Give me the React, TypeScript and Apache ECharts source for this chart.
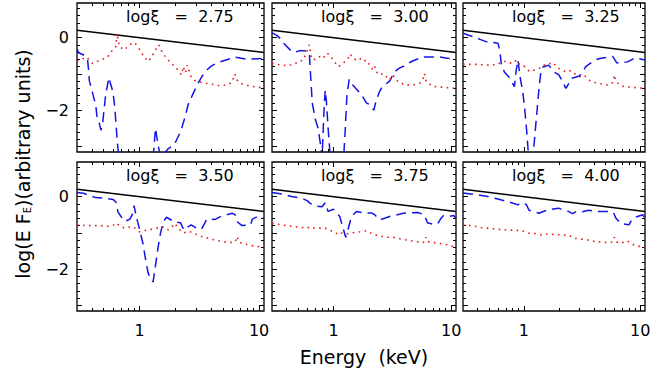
import React, { useEffect, useRef } from "react";
import * as echarts from "echarts";

// ---------------- data ----------------
const xiLabels = ["2.75", "3.00", "3.25", "3.50", "3.75", "4.00"];
const xMajorTicks = [1, 10];
const xMinorTicks = [0.4, 0.5, 0.6, 0.7, 0.8, 0.9, 2, 3, 4, 5, 6, 7, 8, 9];
const yMajorTicks = [-3, -2, -1, 0];
const yLabelTicks = [-2, 0];
const yMinorTicks = [-2.8, -2.6, -2.4, -2.2, -1.8, -1.6, -1.4, -1.2, -0.8, -0.6, -0.4, -0.2, 0.2, 0.4, 0.6, 0.8];

// incident continuum (same in all panels)
const continuum = [[0.3, 0.2], [11, -0.41]];

// log xi = 2.75
const blue275 = [[0.30,-0.32],[0.31,-0.42],[0.35,-0.5],[0.368,-0.62],[0.375,-0.9],[0.381,-1.2],[0.40,-1.45],[0.41,-1.6],[0.43,-1.85],[0.44,-2.15],[0.46,-2.35],[0.475,-2.55],[0.49,-2.4],[0.52,-1.6],[0.54,-1.3],[0.555,-1.1],[0.57,-1.25],[0.60,-1.5],[0.62,-1.9],[0.65,-2.8],[0.67,-3.3],[1.30,-3.3],[1.36,-2.5],[1.42,-2.9],[1.5,-3.3],[1.75,-3.05],[1.95,-2.95],[2.2,-2.6],[2.4,-2.2],[2.55,-1.85],[2.8,-1.55],[3.1,-1.25],[3.5,-0.95],[4.0,-0.78],[4.6,-0.68],[6.3,-0.54],[8.0,-0.6],[11,-0.57]];
const red275 = [[0.30,-0.66],[0.361,-0.54],[0.403,-0.71],[0.474,-0.62],[0.54,-0.54],[0.595,-0.34],[0.635,-0.25],[0.647,0.12],[0.678,-0.25],[0.747,-0.34],[0.823,-0.2],[0.908,-0.14],[0.968,-0.25],[1.067,-0.48],[1.18,-0.66],[1.27,-0.52],[1.36,-0.34],[1.45,-0.2],[1.54,-0.39],[1.68,-0.57],[1.85,-0.71],[2.04,-0.85],[2.25,-1.03],[2.32,-0.8],[2.43,-0.97],[2.51,-0.76],[2.68,-1.06],[2.92,-1.19],[3.32,-1.24],[3.91,-1.28],[4.59,-1.32],[5.4,-1.31],[5.95,-1.22],[6.27,-1.0],[6.55,-1.17],[7.23,-1.28],[8.51,-1.34],[10.0,-1.37],[11,-1.4]];

// log xi = 3.00
const blue300 = [[0.30,0.13],[0.33,0.06],[0.36,-0.05],[0.38,-0.17],[0.44,-0.38],[0.47,-0.40],[0.52,-0.36],[0.60,-0.37],[0.625,-0.5],[0.64,-1.1],[0.66,-1.8],[0.70,-2.25],[0.74,-2.5],[0.78,-3.0],[0.80,-3.3],[0.83,-2.0],[0.85,-1.45],[0.87,-1.75],[0.90,-2.5],[0.94,-3.3],[1.22,-3.3],[1.26,-2.5],[1.30,-1.6],[1.36,-1.15],[1.45,-1.3],[1.6,-1.45],[1.75,-1.6],[1.9,-1.8],[2.05,-1.85],[2.2,-2.0],[2.3,-1.75],[2.45,-1.5],[2.6,-1.35],[3.0,-1.2],[3.3,-0.95],[3.6,-0.85],[4.0,-0.78],[4.6,-0.66],[5.7,-0.54],[7.9,-0.53],[9.3,-0.57],[11,-0.6]];
const red300 = [[0.30,-0.71],[0.376,-0.77],[0.457,-0.75],[0.503,-0.66],[0.555,-0.62],[0.624,-0.2],[0.652,-0.6],[0.719,-0.6],[0.767,-0.52],[0.818,-0.57],[0.874,-0.43],[0.932,-0.48],[0.995,-0.62],[1.096,-0.8],[1.17,-0.75],[1.25,-0.66],[1.33,-0.57],[1.38,-0.45],[1.47,-0.57],[1.57,-0.62],[1.67,-0.57],[1.78,-0.66],[1.90,-0.62],[2.03,-0.76],[2.17,-0.9],[2.24,-0.8],[2.31,-0.94],[2.47,-1.03],[2.63,-0.99],[2.81,-1.08],[3.0,-1.17],[3.2,-1.03],[3.42,-1.17],[3.65,-1.24],[4.14,-1.31],[4.71,-1.31],[5.37,-1.26],[5.73,-1.17],[5.93,-0.99],[6.14,-1.22],[6.96,-1.34],[8.46,-1.37],[11,-1.4]];

// log xi = 3.25
const blue325 = [[0.30,0.12],[0.33,0.07],[0.37,0.02],[0.42,-0.05],[0.50,-0.14],[0.55,-0.14],[0.60,-0.16],[0.62,-0.34],[0.64,-0.71],[0.68,-0.95],[0.75,-1.1],[0.83,-1.35],[0.86,-0.9],[0.89,-0.62],[0.93,-1.1],[0.98,-1.5],[1.02,-2.0],[1.06,-2.6],[1.10,-3.3],[1.2,-3.3],[1.25,-2.6],[1.30,-2.0],[1.35,-1.4],[1.40,-0.95],[1.45,-0.82],[1.64,-0.76],[1.8,-0.94],[2.0,-1.03],[2.1,-1.15],[2.3,-1.4],[2.45,-1.25],[2.6,-1.12],[3.0,-1.06],[3.2,-0.95],[3.4,-0.8],[4.07,-0.62],[4.6,-0.57],[5.8,-0.52],[6.3,-0.7],[7.8,-0.67],[9.0,-0.56],[11,-0.62]];
const red325 = [[0.30,-0.74],[0.40,-0.74],[0.50,-0.76],[0.60,-0.74],[0.62,-0.70],[0.66,-0.66],[0.72,-0.66],[0.78,-0.71],[0.83,-0.69],[0.86,-0.62],[0.89,-0.71],[0.95,-0.76],[1.0,-0.78],[1.07,-0.89],[1.14,-0.94],[1.20,-0.91],[1.28,-0.88],[1.36,-0.85],[1.45,-0.76],[1.55,-0.76],[1.64,-0.73],[1.75,-0.69],[1.82,-0.71],[1.88,-0.8],[2.0,-0.85],[2.15,-0.89],[2.27,-0.94],[2.4,-0.91],[2.6,-0.92],[2.8,-1.03],[2.95,-1.06],[3.14,-1.1],[3.35,-1.06],[3.6,-1.17],[4.1,-1.24],[4.7,-1.28],[5.4,-1.31],[5.9,-1.22],[6.0,-1.03],[6.2,-1.22],[7.0,-1.34],[8.5,-1.37],[11,-1.4]];

// log xi = 3.50
const blue350 = [[0.30,0.11],[0.34,0.09],[0.38,0.03],[0.43,-0.03],[0.52,-0.05],[0.60,-0.08],[0.635,-0.15],[0.66,-0.42],[0.70,-0.55],[0.76,-0.68],[0.83,-0.62],[0.87,-0.5],[0.90,-0.25],[0.94,-0.55],[1.0,-0.9],[1.07,-1.3],[1.12,-1.7],[1.18,-2.1],[1.25,-2.3],[1.30,-2.35],[1.36,-1.9],[1.43,-1.4],[1.5,-1.0],[1.58,-0.7],[1.68,-0.57],[1.97,-0.7],[2.2,-0.72],[2.35,-0.92],[2.5,-0.85],[2.7,-0.78],[3.0,-0.87],[3.3,-0.9],[3.66,-0.62],[4.3,-0.63],[4.7,-0.56],[5.95,-0.46],[6.3,-0.5],[6.6,-0.7],[7.2,-0.8],[8.5,-0.78],[8.8,-0.62],[9.7,-0.55],[11,-0.6]];
const red350 = [[0.30,-0.78],[0.36,-0.8],[0.45,-0.8],[0.55,-0.82],[0.62,-0.78],[0.64,-0.73],[0.68,-0.8],[0.75,-0.87],[0.85,-0.83],[0.92,-0.87],[1.0,-0.97],[1.08,-0.94],[1.2,-0.92],[1.4,-0.87],[1.55,-0.84],[1.63,-0.84],[1.74,-0.92],[1.85,-0.84],[1.98,-0.74],[2.1,-0.88],[2.33,-1.0],[2.6,-0.96],[2.9,-1.02],[3.3,-1.1],[4.3,-1.2],[5.6,-1.27],[6.3,-1.25],[6.55,-1.1],[6.8,-1.26],[8.2,-1.34],[11,-1.4]];

// log xi = 3.75
const blue375 = [[0.30,0.11],[0.376,0.06],[0.44,0.0],[0.54,-0.05],[0.60,-0.12],[0.63,-0.18],[0.70,-0.26],[0.80,-0.28],[0.85,-0.17],[0.90,-0.41],[1.0,-0.35],[1.13,-0.55],[1.20,-0.85],[1.27,-1.12],[1.33,-0.9],[1.42,-0.55],[1.57,-0.41],[1.84,-0.46],[2.1,-0.45],[2.24,-0.5],[2.47,-0.64],[2.72,-0.6],[3.0,-0.55],[3.5,-0.5],[3.9,-0.46],[5.2,-0.44],[5.9,-0.5],[6.3,-0.72],[7.0,-0.76],[7.7,-0.75],[8.2,-0.6],[8.6,-0.53],[9.5,-0.55],[10.5,-0.52],[11,-0.6]];
const red375 = [[0.30,-0.74],[0.33,-0.76],[0.40,-0.8],[0.50,-0.84],[0.60,-0.87],[0.63,-0.83],[0.66,-0.86],[0.72,-0.87],[0.85,-0.87],[0.93,-0.92],[1.0,-0.98],[1.06,-1.02],[1.12,-0.97],[1.2,-1.02],[1.29,-1.03],[1.5,-0.99],[1.67,-0.97],[1.9,-0.94],[2.05,-1.0],[2.3,-1.06],[2.8,-1.12],[3.2,-1.12],[3.9,-1.18],[5.0,-1.24],[5.7,-1.27],[6.0,-1.24],[6.1,-1.12],[6.3,-1.24],[7.9,-1.29],[9.5,-1.33],[11,-1.41]];

// log xi = 4.00
const blue400 = [[0.30,0.1],[0.39,0.05],[0.49,0.0],[0.60,-0.07],[0.73,-0.14],[0.89,-0.23],[0.95,-0.17],[1.05,-0.22],[1.11,-0.38],[1.35,-0.46],[1.45,-0.42],[1.59,-0.37],[1.99,-0.32],[2.2,-0.38],[2.42,-0.41],[2.62,-0.47],[2.8,-0.42],[3.2,-0.42],[3.6,-0.38],[4.2,-0.41],[5.4,-0.41],[5.9,-0.45],[6.2,-0.6],[6.8,-0.74],[7.5,-0.76],[8.0,-0.78],[8.6,-0.6],[9.5,-0.55],[10.5,-0.5],[11,-0.6]];
const red400 = [[0.30,-0.78],[0.36,-0.8],[0.42,-0.85],[0.58,-0.9],[0.75,-0.92],[0.95,-0.94],[1.11,-1.01],[1.25,-1.02],[1.44,-1.06],[1.6,-1.03],[2.0,-1.05],[2.42,-1.06],[2.75,-1.15],[3.6,-1.2],[4.07,-1.24],[5.3,-1.27],[5.8,-1.25],[6.0,-1.12],[6.3,-1.25],[6.8,-1.29],[7.8,-1.22],[8.3,-1.3],[9.0,-1.34],[11,-1.41]];

const blueSets = [blue275, blue300, blue325, blue350, blue375, blue400];
const redSets = [red275, red300, red325, red350, red375, red400];

// ---------------- layout ----------------
const FONT = "DejaVu Sans";
const colLefts = [77, 272, 463];
const colWidths = [187, 184, 182];
const rowTops = [3, 162];
const rowHeight = 149;
const X_MIN = 0.3, X_MAX = 11, Y_MIN = -3.15, Y_MAX = 0.95;

function fmtY(v: number) {
  const r = Math.round(v);
  return r < 0 ? "\u2212" + Math.abs(r) : String(r);
}

function xAx(gi: number, pos: string, ticks: number[], len: number, labels: boolean) {
  return {
    type: "log", logBase: 10, gridIndex: gi, min: X_MIN, max: X_MAX, position: pos,
    axisLine: { show: false, onZero: false },
    splitLine: { show: false },
    axisTick: { show: true, inside: true, length: len, customValues: ticks, lineStyle: { color: "#000", width: 1 } },
    axisLabel: labels
      ? { show: true, customValues: xMajorTicks, formatter: (v: number) => String(Math.round(v)), fontSize: 16, color: "#000", margin: 11, fontFamily: FONT }
      : { show: false },
  };
}
function yAx(gi: number, pos: string, ticks: number[], len: number, labels: boolean) {
  return {
    type: "value", gridIndex: gi, min: Y_MIN, max: Y_MAX, position: pos,
    axisLine: { show: false, onZero: false },
    splitLine: { show: false },
    axisTick: { show: true, inside: true, length: len, customValues: ticks, lineStyle: { color: "#000", width: 1 } },
    axisLabel: labels
      ? { show: true, customValues: yLabelTicks, formatter: fmtY, fontSize: 16, color: "#000", margin: 8, fontFamily: FONT }
      : { show: false },
  };
}

function buildOption() {
  const grids: any[] = [];
  const xAxes: any[] = [];
  const yAxes: any[] = [];
  const series: any[] = [];
  const graphic: any[] = [];
  for (let i = 0; i < 6; i++) {
    const row = Math.floor(i / 3);
    const col = i % 3;
    const left = colLefts[col];
    const top = rowTops[row];
    grids.push({
      left, top, width: colWidths[col], height: rowHeight,
      show: true, borderColor: "#000", borderWidth: 1.3, backgroundColor: "transparent",
      containLabel: false,
    });
    const xi = xAxes.length;
    xAxes.push(xAx(i, "bottom", xMajorTicks, 5, row === 1));
    xAxes.push(xAx(i, "bottom", xMinorTicks, 3, false));
    xAxes.push(xAx(i, "top", xMajorTicks, 5, false));
    xAxes.push(xAx(i, "top", xMinorTicks, 3, false));
    const yi = yAxes.length;
    yAxes.push(yAx(i, "left", yMajorTicks, 5, col === 0));
    yAxes.push(yAx(i, "left", yMinorTicks, 3, false));
    yAxes.push(yAx(i, "right", yMajorTicks, 5, false));
    yAxes.push(yAx(i, "right", yMinorTicks, 3, false));

    series.push({
      type: "line", xAxisIndex: xi, yAxisIndex: yi, data: continuum,
      showSymbol: false, symbol: "none", silent: true,
      lineStyle: { color: "#000", width: 1.5, type: "solid" },
    });
    series.push({
      type: "line", xAxisIndex: xi, yAxisIndex: yi, data: blueSets[i],
      showSymbol: false, symbol: "none", silent: true,
      lineStyle: { color: "#1414e6", width: 1.5, type: [10, 6] },
    });
    series.push({
      type: "line", xAxisIndex: xi, yAxisIndex: yi, data: redSets[i],
      showSymbol: false, symbol: "none", silent: true,
      lineStyle: { color: "#e81c1c", width: 1.6, type: [1.6, 4.4] },
    });

    graphic.push({
      type: "text", left: left + 49, top: top + 5,
      style: {
        text: "log\u03BE\u00A0\u00A0\u00A0=\u00A0\u00A0" + xiLabels[i],
        font: `16px '${FONT}'`, fill: "#000",
      },
    });
  }

  graphic.push({
    type: "text", x: 364, y: 357,
    style: { text: "Energy\u00A0\u00A0(keV)", font: `19px '${FONT}'`, fill: "#000", align: "center", verticalAlign: "middle" },
  });
  graphic.push({
    type: "text", x: 23, y: 164, rotation: Math.PI / 2,
    style: {
      text: "log(E\u00A0F{s|E})(arbitrary\u00A0units)",
      font: `19px '${FONT}'`, fill: "#000", align: "center", verticalAlign: "middle",
      rich: { s: { fontSize: 10, fontFamily: FONT, fill: "#000", padding: [8, 0, 0, 0] } },
    },
  });

  return {
    animation: false,
    backgroundColor: "#fff",
    textStyle: { fontFamily: FONT },
    grid: grids,
    xAxis: xAxes,
    yAxis: yAxes,
    series,
    graphic,
  };
}

export default function App() {
  const ref = useRef<HTMLDivElement>(null);
  useEffect(() => {
    if (!ref.current) return;
    const chart = echarts.init(ref.current, null, { renderer: "svg" });
    chart.setOption(buildOption() as any);
    return () => chart.dispose();
  }, []);
  return (
    <div
      ref={ref}
      style={{ position: "absolute", left: 0, top: 0, width: 654, height: 373, background: "#fff" }}
    />
  );
}
